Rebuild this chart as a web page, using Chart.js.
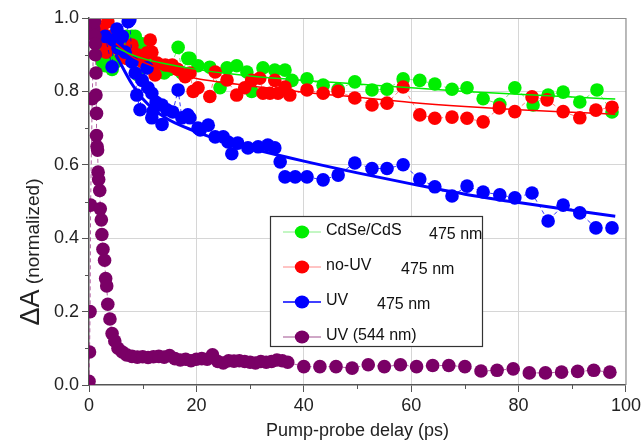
<!DOCTYPE html>
<html><head><meta charset="utf-8">
<script src="https://cdn.jsdelivr.net/npm/chart.js@4.4.1/dist/chart.umd.min.js"></script>
<style>html,body{margin:0;padding:0;background:#fff;}#wrap{width:644px;height:446px;position:relative;}canvas{display:block;}</style>
</head><body><div id="wrap"><canvas id="c" width="644" height="446" style="width:644px;height:446px"></canvas></div>
<script>
// ---- data ----
const xTicks = [0, 20, 40, 60, 80, 100];
const yTicks = [0.0, 0.2, 0.4, 0.6, 0.8, 1.0];
const seriesNames = ['CdSe/CdS', 'no-UV', 'UV', 'UV (544 nm)'];
const seriesTags = ['475 nm', '475 nm', '475 nm', ''];

const cdseX = [0.5,1.0,1.5,2,2.5,3,3.5,4.3,5,6,7,8,8.6,9.1,9.9,11,12,13,14,15,16.6,17.3,18.4,18.8,20.3,22.5,24.4,25.7,27.5,29.4,30.3,32.4,34.6,36.5,37.8,40.6,43.6,46.4,49.5,52.7,55.5,58.5,61.6,64.4,67.6,70.4,73.4,76.5,79.3,82.7,85.5,88.3,91.4,94.6,97.4];
const cdseY = [0.99,0.97,0.93,0.90,0.88,0.87,0.90,0.86,0.88,0.92,0.95,0.95,0.95,0.845,0.93,0.90,0.88,0.87,0.85,0.86,0.92,0.85,0.89,0.89,0.87,0.866,0.81,0.864,0.87,0.853,0.80,0.864,0.858,0.858,0.83,0.834,0.817,0.806,0.826,0.804,0.806,0.834,0.83,0.82,0.806,0.81,0.78,0.765,0.81,0.763,0.79,0.798,0.771,0.804,0.744];

const noUvX = [0.5,1,1.5,2,2.4,3,3.2,3.5,4,4.5,5.4,6,7,8,9,10,10.8,11.4,11.7,12.3,12.7,14.2,15.5,16.5,17.9,18.8,19.4,20.3,22.5,23.5,25.7,27.5,29,30.3,31.8,32.4,33.7,34.6,35.2,36.5,37.4,40.6,43.6,46.4,49.5,52.7,55.5,58.5,61.6,64.4,67.6,70.4,73.4,76.4,79.3,82.5,85.3,88.3,91.4,94.4,97.4];
const noUvY = [1.0,0.99,0.97,0.95,0.97,0.93,0.907,0.99,0.95,0.92,0.926,0.90,0.89,0.926,0.90,0.88,0.905,0.94,0.907,0.845,0.877,0.872,0.872,0.86,0.84,0.85,0.80,0.81,0.786,0.853,0.831,0.79,0.81,0.83,0.836,0.795,0.795,0.83,0.795,0.812,0.79,0.804,0.795,0.80,0.782,0.763,0.768,0.812,0.736,0.727,0.73,0.727,0.717,0.755,0.745,0.785,0.777,0.745,0.728,0.749,0.757];

const uvX = [3,4.3,4.5,5.2,5.4,6.2,6.7,7.3,7.6,8,8.6,8.9,9.5,9.9,10.8,11,11.7,11.7,11.9,12.5,13.6,13.6,14.5,15.6,16.6,17.3,18.4,18.8,20.3,20.7,22.2,23.5,25,25.9,26.6,27.7,29.6,31.5,33.3,34.6,35.6,36.5,38.4,40.6,43.6,46.4,49.5,52.7,55.5,58.5,61.6,64.4,67.6,70.4,73.4,76.5,79.3,82.5,85.5,88.3,91.4,94.4,97.4];
const uvY = [0.95,0.867,0.94,0.97,0.918,0.95,0.907,0.99,0.995,0.88,0.85,0.79,0.75,0.83,0.864,0.81,0.795,0.728,0.745,0.77,0.763,0.71,0.75,0.744,0.804,0.728,0.736,0.728,0.70,0.695,0.708,0.676,0.676,0.662,0.63,0.659,0.646,0.649,0.654,0.646,0.608,0.567,0.567,0.567,0.559,0.572,0.605,0.59,0.59,0.60,0.561,0.54,0.515,0.542,0.526,0.518,0.51,0.523,0.447,0.49,0.469,0.428,0.428];

const uv544X = [0,0.1,0.2,0.3,0.6,0.9,1.0,1.1,1.2,1.2,1.3,1.3,1.4,1.4,1.5,1.6,1.7,1.8,2.0,2.1,2.3,2.4,2.6,2.9,3.1,3.3,3.5,3.9,4.3,4.8,5.4,6.2,7,8,9,10,11,12,13,14,15,16,17,18,19,20,21,22,23,24,25,26,27,28,29,30,31,32,33,34,35,36,37,40,43,46,49,52,55,58,61,64,67,70,73,76,79,82,85,88,91,94,97];
const uv544Y = [0.01,0.09,0.20,0.49,0.78,0.97,0.99,0.95,0.93,0.90,0.85,0.79,0.74,0.68,0.65,0.64,0.58,0.56,0.53,0.48,0.45,0.41,0.37,0.34,0.29,0.27,0.22,0.18,0.14,0.12,0.10,0.09,0.082,0.078,0.076,0.077,0.075,0.077,0.078,0.076,0.08,0.072,0.068,0.07,0.066,0.07,0.072,0.07,0.082,0.064,0.06,0.066,0.065,0.066,0.064,0.062,0.06,0.064,0.062,0.064,0.068,0.066,0.062,0.05,0.05,0.05,0.046,0.055,0.05,0.055,0.05,0.053,0.053,0.05,0.038,0.04,0.044,0.033,0.033,0.035,0.037,0.04,0.035];

// fitted curves
const fitX = [5,8,10,14,20,25,30,40,50,60,70,80,90,98];
const cdseFitY = [0.92,0.90,0.89,0.876,0.86,0.85,0.842,0.83,0.82,0.81,0.80,0.792,0.785,0.779];
const noUvFitY = [0.93,0.895,0.88,0.858,0.835,0.824,0.815,0.798,0.784,0.77,0.759,0.75,0.743,0.738];
const uvFitY   = [0.90,0.82,0.78,0.73,0.69,0.665,0.645,0.61,0.578,0.548,0.52,0.497,0.476,0.46];

const colGreen = '#00ee00', colRed = '#ff0000', colBlue = '#0000ff', colPurple = '#7a0066';

function pts(xs, ys) { return xs.map((x, i) => ({x: x, y: ys[i]})); }

function dataDs(label, xs, ys, col, dashCol, order) {
  return {label, data: pts(xs, ys), showLine: true, borderColor: dashCol, borderWidth: 1,
    borderDash: [4, 3], backgroundColor: col, pointBackgroundColor: col, pointBorderColor: col,
    pointStyle: 'circle', pointRadius: 6.8, pointBorderWidth: 0, pointHoverRadius: 6.8, order};
}
function fitDs(xs, ys, col, w) {
  return {label: 'fit', data: pts(xs, ys), showLine: true, borderColor: col, borderWidth: w,
    pointRadius: 0, tension: 0.4, cubicInterpolationMode: 'monotone', order: -1, fill: false};
}

const FONT = '"Liberation Sans", Arial, sans-serif';

const extras = {
  id: 'extras',
  afterDraw(chart) {
    const ctx = chart.ctx, a = chart.chartArea, xs = chart.scales.x, ys = chart.scales.y;
    ctx.save();
    // frame top / right
    ctx.strokeStyle = '#8c8c8c'; ctx.lineWidth = 1.2;
    ctx.beginPath(); ctx.moveTo(a.left, a.top + 0.5); ctx.lineTo(a.right, a.top + 0.5);
    ctx.lineTo(a.right, a.bottom); ctx.stroke();
    // minor ticks
    ctx.strokeStyle = '#555'; ctx.lineWidth = 1;
    [10, 30, 50, 70, 90].forEach(v => { const p = Math.round(xs.getPixelForValue(v)) + 0.5;
      ctx.beginPath(); ctx.moveTo(p, a.bottom); ctx.lineTo(p, a.bottom + 4); ctx.stroke(); });
    [0.1, 0.3, 0.5, 0.7, 0.9].forEach(v => { const p = Math.round(ys.getPixelForValue(v)) + 0.5;
      ctx.beginPath(); ctx.moveTo(a.left - 4, p); ctx.lineTo(a.left, p); ctx.stroke(); });
    // y title with mixed sizes
    ctx.translate(31, 252); ctx.rotate(-Math.PI / 2);
    ctx.fillStyle = '#222'; ctx.textBaseline = 'alphabetic'; ctx.textAlign = 'left';
    ctx.font = '27px ' + FONT; const w1 = ctx.measureText('\u0394A').width;
    ctx.font = '19px ' + FONT; const w2 = ctx.measureText(' (normalized)').width;
    let sx = -(w1 + w2) / 2;
    ctx.font = '27px ' + FONT; ctx.fillText('\u0394A', sx, 8);
    ctx.font = '19px ' + FONT; ctx.fillText(' (normalized)', sx + w1, 8);
    ctx.restore();
    // legend
    ctx.save();
    const L = 270, T = 216, R = 482, B = 346;
    ctx.fillStyle = '#fff'; ctx.fillRect(L, T, R - L, B - T);
    ctx.strokeStyle = '#333'; ctx.lineWidth = 1.2; ctx.strokeRect(L + 0.5, T + 0.5, R - L, B - T);
    const cols = [colGreen, colRed, colBlue, colPurple];
    const lineCols = ['#88ee88', '#ff8888', colBlue, '#a0508f'];
    const rowsY = [232, 267, 302, 337];
    const tagX = [429, 401, 377, 0];
    ctx.font = '16px ' + FONT; ctx.textBaseline = 'middle'; ctx.textAlign = 'left';
    for (let i = 0; i < 4; i++) {
      const y = rowsY[i];
      ctx.strokeStyle = lineCols[i]; ctx.lineWidth = i === 2 ? 1.5 : 1;
      ctx.beginPath(); ctx.moveTo(283, y); ctx.lineTo(321, y); ctx.stroke();
      ctx.fillStyle = cols[i]; ctx.beginPath(); ctx.ellipse(302, y, 7.2, 6.4, 0, 0, Math.PI * 2); ctx.fill();
      ctx.fillStyle = '#111'; ctx.fillText(seriesNames[i], 326, y - 1);
      if (seriesTags[i]) ctx.fillText(seriesTags[i], tagX[i], y + 3);
    }
    ctx.restore();
  }
};

new Chart(document.getElementById('c'), {
  type: 'scatter',
  data: { datasets: [
    fitDs(fitX, cdseFitY, colGreen, 1.5),
    fitDs(fitX, noUvFitY, colRed, 1.5),
    fitDs(fitX, uvFitY, colBlue, 3),
    dataDs(seriesNames[3], uv544X, uv544Y, colPurple, 'rgba(160,60,140,0.8)', 0),
    dataDs(seriesNames[2], uvX, uvY, colBlue, 'rgba(0,0,255,0.8)', 1),
    dataDs(seriesNames[1], noUvX, noUvY, colRed, 'rgba(255,90,90,0.8)', 2),
    dataDs(seriesNames[0], cdseX, cdseY, colGreen, 'rgba(80,230,80,0.8)', 3)
  ]},
  options: {
    responsive: false, maintainAspectRatio: false, animation: false, devicePixelRatio: 1,
    layout: { padding: { left: 0, right: 16, top: 18, bottom: 0 } },
    plugins: { legend: { display: false }, tooltip: { enabled: false } },
    scales: {
      x: { type: 'linear', min: xTicks[0], max: xTicks[xTicks.length - 1],
        afterBuildTicks: s => { s.ticks = xTicks.map(v => ({value: v})); },
        afterFit: s => { s.height = 61; },
        ticks: { color: '#222', font: { family: FONT, size: 18 }, padding: 3, maxRotation: 0,
          callback: v => String(v) },
        grid: { color: c => (c.tick && (c.tick.value === 0 || c.tick.value === 100)) ? 'rgba(0,0,0,0)' : '#d6d6d6',
          tickColor: '#555', tickLength: 7, lineWidth: 1 },
        border: { display: true, color: '#555', width: 1.5 },
        title: { display: true, text: 'Pump-probe delay (ps)', color: '#222',
          font: { family: FONT, size: 18 }, padding: { top: 0, bottom: 4 } } },
      y: { type: 'linear', min: yTicks[0], max: yTicks[yTicks.length - 1],
        afterBuildTicks: s => { s.ticks = yTicks.map(v => ({value: v})); },
        afterFit: s => { s.width = 89; },
        ticks: { color: '#222', font: { family: FONT, size: 18 }, padding: 3,
          callback: v => Number(v).toFixed(1) },
        grid: { color: c => (c.tick && (c.tick.value === 0 || c.tick.value === 1)) ? 'rgba(0,0,0,0)' : '#d6d6d6',
          tickColor: '#555', tickLength: 7, lineWidth: 1 },
        border: { display: true, color: '#555', width: 1.5 } }
    }
  },
  plugins: [extras]
});
</script>
</body></html>
